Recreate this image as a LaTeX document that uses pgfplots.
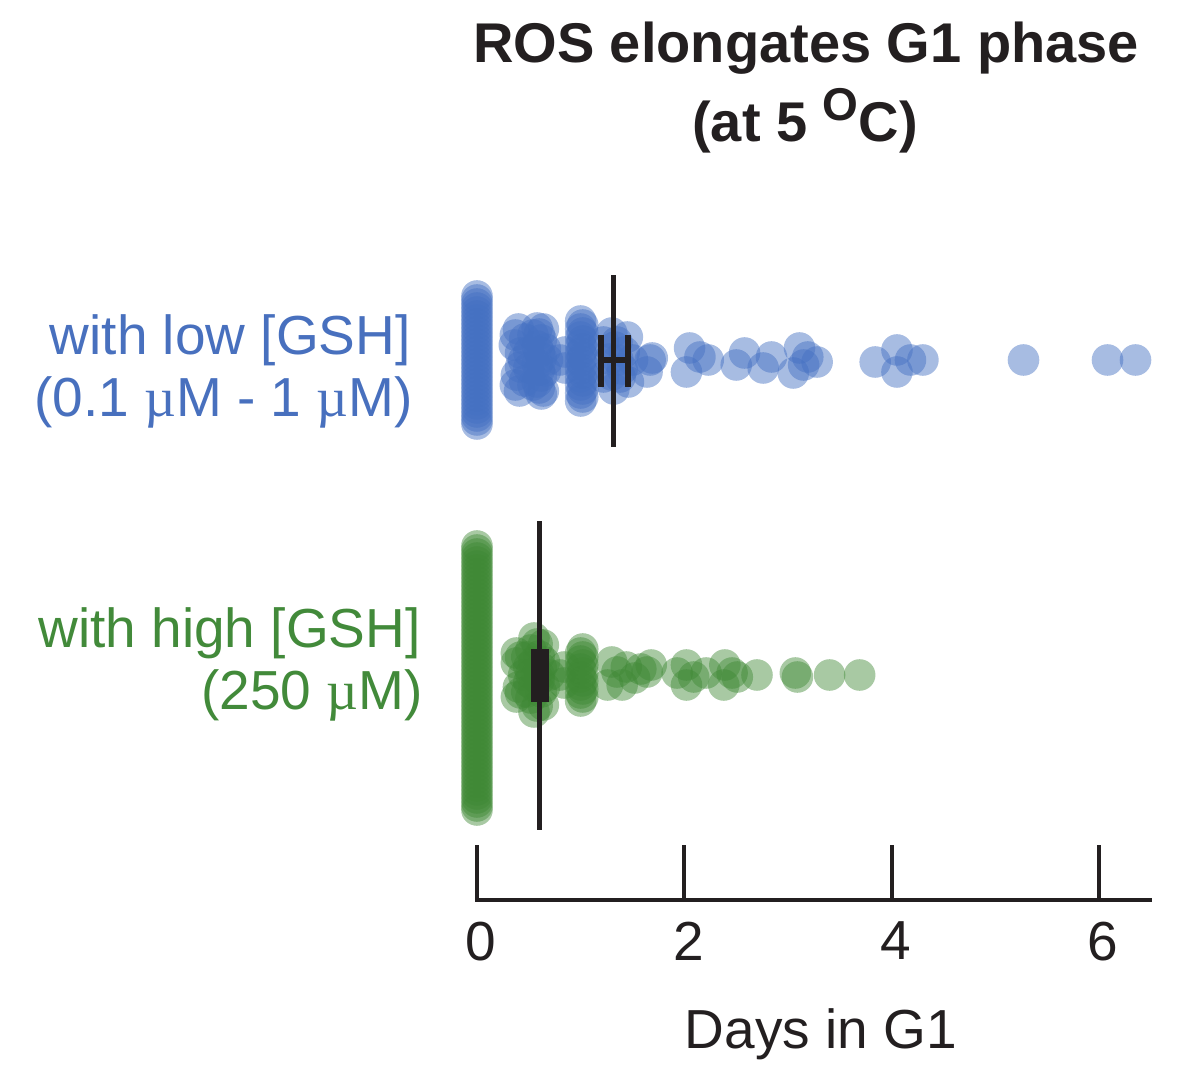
\documentclass[border=0pt]{standalone}
\usepackage{pgfplots}
\pgfplotsset{compat=1.18}
\usepackage{fontspec}
\setmainfont{Liberation Sans}
\newfontfamily\mufont{Liberation Serif}
\definecolor{bl}{RGB}{68,112,194}
\definecolor{blt}{RGB}{72,112,190}
\definecolor{gr}{RGB}{62,136,52}
\definecolor{grt}{RGB}{66,138,58}
\definecolor{ln}{RGB}{35,31,32}
\newcommand{\micro}{{\mufont µ}}
\begin{document}
\begin{tikzpicture}
\path[use as bounding box] (0,0) rectangle (600pt,538.5pt);
\begin{axis}[
  at={(237.45pt,88.5pt)}, anchor=south west,
  scale only axis, width=338.6pt, height=320pt,
  xmin=-0.02, xmax=6.51, ymin=177, ymax=817,
  clip=false, clip mode=individual, mark layer=like plot,
  axis x line=bottom, axis y line=none,
  x axis line style={-, line width=2pt, color=ln},
  xtick={0,2,4,6}, tick align=inside,
  major tick length=27.5pt,
  every tick/.style={line width=2pt, color=ln},
  /pgf/number format/assume math mode=true,
  xticklabel style={font=\fontsize{27.5pt}{30pt}\selectfont, color=ln, yshift=-7.5pt, xshift=2pt},
]
% ---- low [GSH] (blue) ----
\addplot[only marks, mark=*, mark size=7.9pt, mark options={draw opacity=0, fill=bl, fill opacity=0.47}] coordinates {
(0,653)(0,657)(0,661)(0,665)(0,669)(0,673)(0,677)(0,681)(0,685)(0,689)(0,693)
(0,697)(0,701)(0,705)(0,709)(0,713)(0,717)(0,721)(0,725)(0,729)(0,733)(0,737)
(0,741)(0,745)(0,749)(0,753)(0,757)(0,761)(0,765)(0,769)(0,773)(0,777)(0,781)
(0.37,742)(0.36,732)(0.38,702)(0.37,692)(0.40,748)(0.41,686)(0.42,724)(0.42,710)
(0.45,717)(0.46,738)(0.46,696)
(0.58,749)(0.60,743)(0.62,737)(0.58,731)(0.60,725)(0.62,719)(0.58,713)(0.60,707)
(0.62,701)(0.58,695)(0.60,689)(0.62,683)
(0.50,725)(0.50,709)(0.66,728)(0.66,706)(0.68,717)(0.54,742)(0.54,692)(0.64,748)(0.64,686)
(0.80,717)(0.85,725)(0.85,709)
(1.00,676)(1.02,680)(1.00,684)(1.02,688)(1.00,692)(1.02,696)(1.00,700)(1.02,704)
(1.00,708)(1.02,712)(1.00,716)(1.02,720)(1.00,724)(1.02,728)(1.00,732)(1.02,736)
(1.00,740)(1.02,744)(1.00,748)(1.02,752)(1.00,756)
(1.30,744)(1.35,735)(1.38,700)(1.32,688)(1.42,725)(1.40,708)(1.28,718)(1.36,717)
(1.22,735)(1.22,700)(1.45,740)(1.46,695)(1.50,717)(1.30,702)(1.33,730)
(1.64,705)(1.69,719)(1.67,717)
(2.05,729)(2.02,705)(2.23,717)(2.15,720)
(2.50,712)(2.58,724)(2.76,709)(2.84,720)
(3.11,729)(3.05,704)(3.19,720)(3.28,715)(3.15,712)
(3.84,715)(4.05,727)(4.05,705)(4.18,717)(4.30,717)
(5.27,717)(6.08,717)(6.35,717)
};
% ---- high [GSH] (green) ----
\addplot[only marks, mark=*, mark size=7.9pt, mark options={draw opacity=0, fill=gr, fill opacity=0.45}] coordinates {
(0,267)(0,271)(0,275)(0,279)(0,283)(0,287)(0,291)(0,295)(0,299)(0,303)(0,307)
(0,311)(0,315)(0,319)(0,323)(0,327)(0,331)(0,335)(0,339)(0,343)(0,347)(0,351)
(0,355)(0,359)(0,363)(0,367)(0,371)(0,375)(0,379)(0,383)(0,387)(0,391)(0,395)
(0,399)(0,403)(0,407)(0,411)(0,415)(0,419)(0,423)(0,427)(0,431)(0,435)(0,439)
(0,443)(0,447)(0,451)(0,455)(0,459)(0,463)(0,467)(0,471)(0,475)(0,479)(0,483)
(0,487)(0,491)(0,495)(0,499)(0,503)(0,507)(0,511)(0,515)(0,519)(0,523)(0,527)(0,531)
(0.38,424)(0.38,414)(0.40,390)(0.38,380)(0.42,420)(0.42,384)
(0.55,439)(0.58,433)(0.52,427)(0.60,421)(0.55,415)(0.62,409)(0.52,403)(0.60,397)
(0.55,391)(0.62,385)(0.52,379)(0.58,371)(0.55,365)(0.60,402)
(0.45,402)(0.50,410)(0.50,395)(0.65,415)(0.65,390)(0.70,402)(0.57,402)(0.48,420)(0.48,385)
(0.64,432)(0.64,372)
(0.80,402)(0.84,410)(0.84,394)
(1.00,376)(1.02,380)(1.00,384)(1.02,388)(1.00,392)(1.02,396)(1.00,400)(1.02,404)
(1.00,408)(1.02,412)(1.00,416)(1.02,420)(1.00,424)(1.02,428)
(1.35,405)(1.26,392)(1.44,410)(1.52,399)(1.64,405)(1.68,412)
(1.30,415)(1.40,392)(1.58,408)
(1.93,404)(2.02,412)(2.02,392)(2.09,400)(2.21,404)
(2.39,412)(2.38,392)(2.46,404)(2.51,400)
(2.70,402)(3.07,404)(3.09,400)(3.40,402)(3.69,402)
};
% ---- means and errors ----
\addplot[ln, line width=2.5pt, mark=none] coordinates {(1.32,630) (1.32,802)};
\addplot[ln, line width=3pt, mark=none] coordinates {(1.20,717) (1.455,717)};
\addplot[ln, line width=3pt, mark=none] coordinates {(1.20,690) (1.20,742)};
\addplot[ln, line width=3pt, mark=none] coordinates {(1.455,690) (1.455,742)};
\addplot[ln, line width=2.5pt, mark=none] coordinates {(0.6075,247) (0.6075,556)};
\addplot[ln, line width=9.3pt, mark=none] coordinates {(0.6075,375) (0.6075,428)};
\end{axis}
% ---- texts ----
\node[anchor=base, inner sep=0, font=\fontsize{28pt}{32pt}\selectfont\bfseries, text=ln] at (403pt,507pt) {ROS elongates G1 phase};
\node[anchor=base, inner sep=0, font=\fontsize{28pt}{32pt}\selectfont\bfseries, text=ln] at (402.5pt,467.5pt) {(at 5 \raisebox{10.5pt}{\fontsize{23pt}{23pt}\selectfont O}C)};
\node[anchor=base east, inner sep=0, font=\fontsize{27.5pt}{31pt}\selectfont, text=blt] at (205.5pt,361pt) {with low [GSH]};
\node[anchor=base east, inner sep=0, font=\fontsize{27.5pt}{31pt}\selectfont, text=blt] at (206.5pt,330pt) {(0.1 \micro M - 1 \micro M)};
\node[anchor=base east, inner sep=0, font=\fontsize{27.5pt}{31pt}\selectfont, text=grt] at (210.5pt,214.5pt) {with high [GSH]};
\node[anchor=base east, inner sep=0, font=\fontsize{27.5pt}{31pt}\selectfont, text=grt] at (211.5pt,183.5pt) {(250 \micro M)};
\node[anchor=base, inner sep=0, font=\fontsize{27.5pt}{31pt}\selectfont, text=ln] at (410.5pt,14.5pt) {Days in G1};
\end{tikzpicture}
\end{document}
